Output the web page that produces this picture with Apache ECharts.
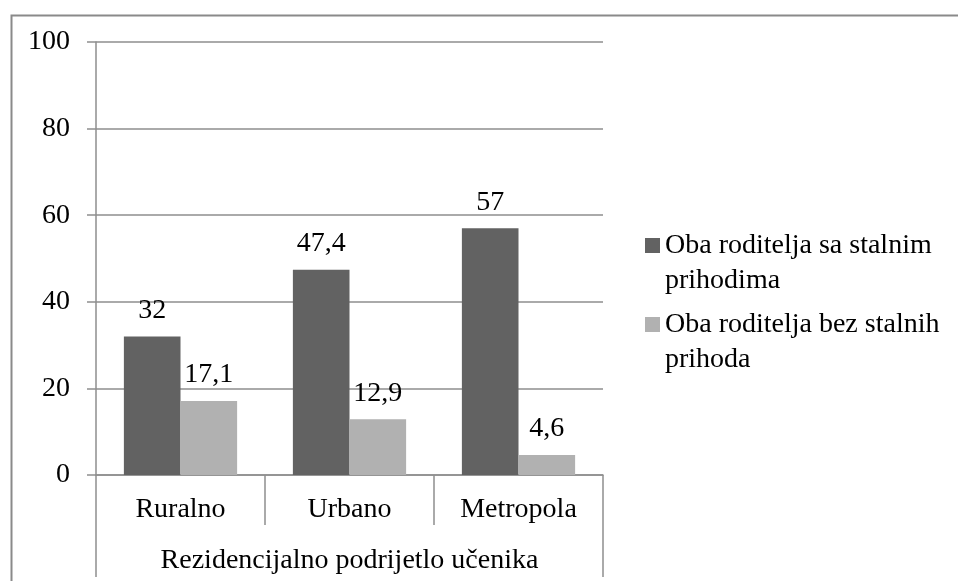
<!DOCTYPE html>
<html><head><meta charset="utf-8">
<script src="https://cdn.jsdelivr.net/npm/echarts@6/dist/echarts.min.js"></script>
<style>html,body{margin:0;padding:0;background:#fff}#c{width:958px;height:581px}</style>
</head><body><div id="c"></div>
<script>
const categories = ['Ruralno', 'Urbano', 'Metropola'];
const groupLabel = ['Rezidencijalno podrijetlo učenika'];
const seriesNames = ['Oba roditelja sa stalnim\nprihodima', 'Oba roditelja bez stalnih\nprihoda'];
const withIncome = [32, 47.4, 57];
const withoutIncome = [17.1, 12.9, 4.6];
const yMin = 0, yMax = 100, yInterval = 20;

const FONT = 'Liberation Serif';
const GRID_C = '#8e8e8e';
const colors = ['#626262', '#b1b1b1'];

const chart = echarts.init(document.getElementById('c'), null, {renderer: 'canvas'});
const labelCfg = {
  show: true, position: 'top', distance: 12,
  fontFamily: FONT, fontSize: 28, lineHeight: 28, color: '#000',
  formatter: p => String(p.value).replace('.', ',')
};
chart.setOption({
  backgroundColor: '#fff',
  animation: false,
  textStyle: {fontFamily: FONT},
  graphic: [{
    type: 'rect', left: 9, top: 13, silent: true,
    shape: {width: 1000, height: 1000},
    style: {fill: 'none', stroke: '#8a8a8a', lineWidth: 2}
  }],
  grid: {left: 96, right: 355, top: 42, bottom: 106, containLabel: false},
  legend: {
    orient: 'vertical', left: 640, top: 223, itemGap: 9, padding: 5,
    itemWidth: 15, itemHeight: 50,
    icon: 'path://M0,0L15,0L15,15L0,15Z M0,50L15,50',
    textStyle: {fontFamily: FONT, fontSize: 28, lineHeight: 35, color: '#000'},
    data: seriesNames
  },
  xAxis: [{
    type: 'category', data: categories, position: 'bottom',
    axisLine: {show: true, lineStyle: {color: GRID_C, width: 1.5}},
    axisTick: {show: true, interval: 0, alignWithLabel: false, length: 50, lineStyle: {color: GRID_C, width: 1.5}},
    axisLabel: {interval: 0, margin: 21, fontFamily: FONT, fontSize: 28, lineHeight: 28, color: '#000'},
    splitLine: {show: false}
  }, {
    type: 'category', data: groupLabel, position: 'bottom', gridIndex: 0,
    axisLine: {show: false},
    axisTick: {show: true, interval: 0, alignWithLabel: false, length: 102, lineStyle: {color: GRID_C, width: 1.5}},
    axisLabel: {interval: 0, margin: 72, fontFamily: FONT, fontSize: 28, lineHeight: 28, color: '#000'},
    splitLine: {show: false}
  }],
  yAxis: {
    type: 'value', min: yMin, max: yMax, interval: yInterval,
    axisLine: {show: true, lineStyle: {color: GRID_C, width: 1.5}},
    axisTick: {show: true, length: 9, lineStyle: {color: GRID_C, width: 1.5}},
    axisLabel: {margin: 26, fontFamily: FONT, fontSize: 28, color: '#000'},
    splitLine: {show: true, lineStyle: {color: GRID_C, width: 1.5}}
  },
  series: [{
    name: seriesNames[0], type: 'bar', xAxisIndex: 0, data: withIncome,
    barGap: '0%', barCategoryGap: '33%',
    itemStyle: {color: colors[0]}, label: labelCfg
  }, {
    name: seriesNames[1], type: 'bar', xAxisIndex: 0, data: withoutIncome,
    barGap: '0%', barCategoryGap: '33%',
    itemStyle: {color: colors[1]}, label: labelCfg
  }]
});
</script></body></html>
